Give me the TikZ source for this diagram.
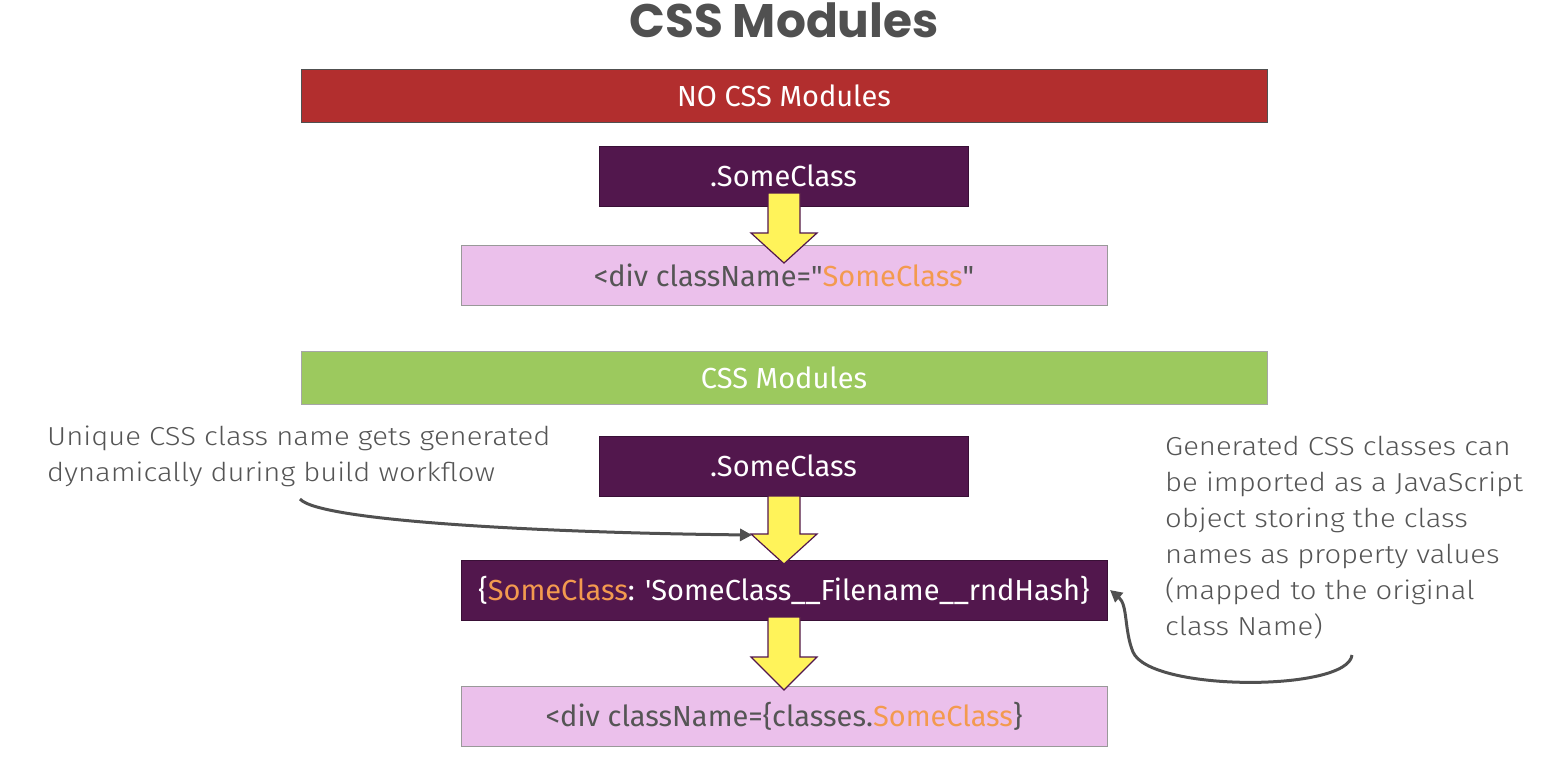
\documentclass[tikz,border=0pt]{standalone}
\usepackage{fontspec}
\newfontfamily\bodyfont{Fira Sans}
\newfontfamily\notefont{Fira Sans}[UprightFont={* Light}, FakeStretch=1.125]
\newfontfamily\titlefont{Poppins}
\usetikzlibrary{arrows.meta}
\definecolor{barred}{HTML}{B22E2E}
\definecolor{plum}{HTML}{52174D}
\definecolor{lilac}{HTML}{EBC0EB}
\definecolor{leaf}{HTML}{9CC95E}
\definecolor{accent}{HTML}{F39A4F}
\definecolor{yel}{HTML}{FFF35A}
\definecolor{txt}{HTML}{555555}
\definecolor{linegray}{HTML}{505050}
\tikzset{
  box/.style={rectangle, inner sep=0pt, font=\bodyfont\fontsize{29}{34}\selectfont},
  bar/.style={box, minimum width=966pt, minimum height=53pt, text=white, draw=linegray, line width=0.8pt},
  darkbox/.style={box, fill=plum, draw=plum!70!black, line width=0.8pt, text=white, minimum height=60pt},
  lightbox/.style={box, fill=lilac, draw=gray!80, line width=0.8pt, text=txt, minimum height=60pt, minimum width=646pt},
  note/.style={align=left, anchor=north west, inner sep=0pt, text=txt, font=\notefont\fontsize{26}{36}\selectfont},
  blockarrow/.style={fill=yel, draw=plum, line width=1.2pt, line join=miter},
  curve/.style={draw=linegray, line width=3pt, -{Triangle[length=12pt,width=12pt]}}
}
\begin{document}
\begin{tikzpicture}[x=1pt,y=-1pt]
\useasboundingbox (0,0) rectangle (1545,763);
\node[font=\titlefont\bfseries\fontsize{47}{50}\selectfont, text=linegray] (title) at (784,20) {CSS Modules};
\node[bar, fill=barred] (nobar) at (784,95.5) {NO CSS Modules};
\node[darkbox, minimum width=369pt] (cls1) at (783.5,176) {.SomeClass};
\node[lightbox] (div1) at (784,275) {<div className="\textcolor{accent}{SomeClass}"};
\node[bar, fill=leaf, draw=gray!70] (modbar) at (784,378) {CSS Modules};
\node[darkbox, minimum width=369pt] (cls2) at (783.5,466) {.SomeClass};
\node[darkbox, minimum width=646pt] (map) at (784,590) {\{\textcolor{accent}{SomeClass}: 'SomeClass\_\_Filename\_\_rndHash\}};
\node[lightbox] (div2) at (784,716) {<div className=\{classes.\textcolor{accent}{SomeClass}\}};
% block arrows
\draw[blockarrow] (768,193) -- (800,193) -- (800,233) -- (817,233) -- (784,263) -- (751,233) -- (768,233) -- cycle;
\draw[blockarrow] (768,496) -- (800,496) -- (800,534) -- (817,534) -- (784,564) -- (751,534) -- (768,534) -- cycle;
\draw[blockarrow] (768,617) -- (800,617) -- (800,657) -- (817,657) -- (784,690) -- (751,657) -- (768,657) -- cycle;
\coordinate (h2) at (752,535);
% notes
\node[note] (leftnote) at (47,426) {Unique CSS class name gets generated\\dynamically during build workflow};
\node[note] (rightnote) at (1165,436) {Generated CSS classes can\\be imported as a JavaScript\\object storing the class\\names as property values\\(mapped to the original\\class Name)};
\coordinate (c1s) at (300,499);
\draw[curve] (c1s) .. controls (320,522) and (560,533) .. (h2);
\coordinate (c2s) at (1352,655);
\coordinate (c2e) at (1110,590);
\draw[curve] (c2s) .. controls (1348,692) and (1150,692) .. (1133,652) .. controls (1124,630) and (1128,605) .. (c2e);
\end{tikzpicture}
\end{document}
